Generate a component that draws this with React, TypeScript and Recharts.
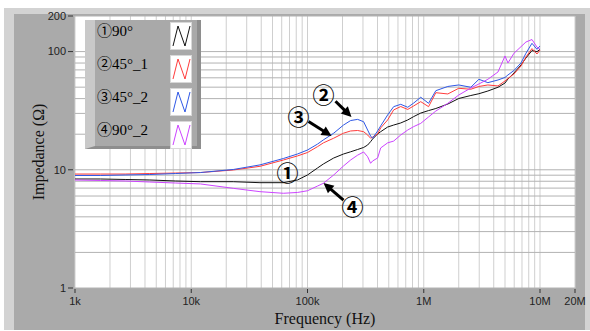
import React from 'react';
import { LineChart, Line, XAxis, YAxis, CartesianGrid, Legend, ReferenceLine, ReferenceDot } from 'recharts';

const frequencies = [1000, 1650, 2700, 4400, 7300, 12000, 23000, 39000, 62000, 82000, 100000, 122000, 137000, 168000, 204000, 235000, 270000, 304000, 329000, 349000, 363000, 401000, 426000, 489000, 551000, 634000, 728000, 820000, 942000, 1100000, 1270000, 1610000, 2000000, 2540000, 2980000, 3560000, 4350000, 5000000, 5300000, 5970000, 6860000, 7570000, 8530000, 9420000, 10000000];

const s90 = [8.36, 8.36, 8.28, 8.2, 8.04, 7.93, 7.93, 7.78, 7.78, 8.2, 9.04, 10.36, 11.2, 12.58, 13.6, 14.2, 14.85, 15.45, 16.2, 17.3, 18.2, 20.1, 21.0, 23.0, 23.9, 24.9, 26.4, 28.2, 30.2, 31.7, 33.0, 36.0, 40.1, 42.5, 44.0, 46.4, 49.9, 54.2, 58.6, 65.9, 77.0, 88.3, 102, 99.8, 104.5];
const s45_1 = [9.21, 9.21, 9.21, 9.3, 9.39, 9.48, 9.96, 10.7, 12.1, 13.1, 14.0, 15.7, 16.9, 18.5, 20.4, 21.3, 21.5, 21.0, 19.7, 18.5, 18.9, 20.1, 22.6, 26.4, 32.1, 34.3, 32.4, 34.7, 37.7, 34.2, 44.9, 43.8, 48.9, 48.0, 50.7, 52.2, 51.2, 56.4, 59.2, 64.6, 75.5, 90.0, 106, 95.4, 103];
const s45_2 = [8.95, 8.95, 9.04, 9.12, 9.3, 9.48, 10.06, 11.0, 12.46, 13.6, 14.7, 16.5, 17.9, 20.4, 23.9, 26.1, 26.7, 25.5, 21.7, 19.3, 18.5, 21.3, 23.5, 29.1, 34.2, 35.8, 33.8, 36.7, 41.1, 36.5, 46.7, 50.7, 52.2, 49.9, 58.3, 54.6, 57.5, 60.4, 63.4, 69.2, 80.1, 96.8, 117.5, 104.5, 111.5];
const s90_2 = [8.2, 8.12, 8.04, 7.88, 7.73, 7.59, 6.97, 6.53, 6.33, 6.43, 6.65, 7.29, 7.69, 9.04, 10.77, 12.1, 13.3, 14.15, 12.9, 11.35, 11.87, 12.58, 15.3, 16.9, 17.5, 19.7, 21.7, 23.2, 24.7, 28.0, 31.4, 36.5, 42.9, 49.2, 53.2, 58.3, 67.2, 91.8, 80.1, 96.8, 110, 120.5, 126.5, 109, 104.5];

const seriesNames = ['①90°', '②45°_1', '③45°_2', '④90°_2'];
const seriesColors = ['#111111', '#ff3c3c', '#2f58e6', '#cc44ff'];
const seriesKeys = ['s1', 's2', 's3', 's4'];

const yTicks = [1, 2, 3, 4, 5, 6, 7, 8, 9, 10, 20, 30, 40, 50, 60, 70, 80, 90, 100, 200];
const yTickLabels = [1, 10, 100, 200];
const xTicks = [1000, 2000, 3000, 4000, 5000, 6000, 7000, 8000, 9000, 10000, 20000, 30000, 40000, 50000, 60000, 70000, 80000, 90000, 100000, 200000, 300000, 400000, 500000, 600000, 700000, 800000, 900000, 1000000, 2000000, 3000000, 4000000, 5000000, 6000000, 7000000, 8000000, 9000000, 10000000, 20000000];
const xTickValues = [1000, 10000, 100000, 1000000, 10000000, 20000000];
const xTickTexts = ['1k', '10k', '100k', '1M', '10M', '20M'];

const annotationLabels = ['②', '③', '①', '④'];
const annotationF = [137000, 83600, 67300, 244000];
const annotationZ = [42.9, 28.0, 9.4, 4.85];

const arrowFrom = [[174000, 38.0], [102000, 25.6], [204000, 5.55]];
const arrowTo = [[239000, 28.0], [161000, 19.3], [137400, 7.73]];

const data = frequencies.map((f, i) => ({ f, s1: s90[i], s2: s45_1[i], s3: s45_2[i], s4: s90_2[i] }));

const tickFont = { fontFamily: '"Liberation Sans", Arial, sans-serif', fontSize: 11, fill: '#222' };

const YTick = (props: any) => {
  const { x, y, payload } = props;
  if (!yTickLabels.includes(payload.value)) return <g />;
  return (
    <g>
      <line x1={x + 1} x2={x + 6} y1={y} y2={y} stroke="#333" />
      <text x={x - 1} y={y} dy="0.35em" textAnchor="end" {...tickFont}>{payload.value}</text>
    </g>
  );
};

const XTick = (props: any) => {
  const { x, y, payload } = props;
  const idx = xTickValues.indexOf(payload.value);
  if (idx < 0) return <g />;
  return (
    <g>
      <line x1={x} x2={x} y1={y - 7} y2={y - 3} stroke="#333" />
      <text x={x} y={y} dy="0.85em" textAnchor="middle" {...tickFont}>{xTickTexts[idx]}</text>
    </g>
  );
};

const Arrow = (p: any) => {
  const { x1, y1, x2, y2 } = p;
  const dx = x2 - x1, dy = y2 - y1;
  const len = Math.hypot(dx, dy) || 1;
  const ux = dx / len, uy = dy / len;
  const hl = 10, hw = 5;
  const bx = x2 - ux * hl, by = y2 - uy * hl;
  return (
    <g>
      <line x1={x1} y1={y1} x2={bx + ux} y2={by + uy} stroke="#000" strokeWidth={3} />
      <polygon points={`${x2},${y2} ${bx - uy * hw},${by + ux * hw} ${bx + uy * hw},${by - ux * hw}`} fill="#000" />
    </g>
  );
};

const LegendBox = (props: any) => {
  const payload = props.payload || [];
  return (
    <div style={{ position: 'relative', width: 116, height: 129, background: '#a9a9a9', boxSizing: 'border-box', borderLeft: '10px solid #c9c9c9', borderRight: '4px solid #8e8e8e', borderBottom: '3px solid #8e8e8e' }}>
      {payload.map((p: any, i: number) => (
        <div key={i}>
          <span style={{ position: 'absolute', left: 2, top: 3 + i * 33, lineHeight: '16px', fontSize: 15, fontFamily: '"Liberation Serif", "Noto Sans CJK JP", serif', color: '#000', whiteSpace: 'nowrap' }}>{p.value}</span>
          <svg style={{ position: 'absolute', left: 75, top: 2 + i * 33 }} width={22} height={28}>
            <rect x={0.5} y={0.5} width={21} height={27} fill="#fff" stroke="#d8d8d8" />
            <polyline points="3,24 8,4 15,24 20,4" stroke={p.color} strokeWidth={1} fill="none" />
          </svg>
        </div>
      ))}
    </div>
  );
};

export default function App() {
  return (
    <div style={{ position: 'absolute', left: 0, top: 0, width: 590, height: 331, background: '#fff' }}>
      <div style={{ position: 'absolute', left: 4, top: 8, width: 586, height: 322, background: '#d3d3d3' }} />
      <div style={{ position: 'absolute', left: 14, top: 14, width: 571, height: 316, background: '#aaaaaa' }} />
      <div style={{ position: 'absolute', left: 0, top: 0 }}>
        <LineChart width={590} height={331} data={data} margin={{ top: 16, right: 15, bottom: 0, left: 0 }}>
          <CartesianGrid horizontal={false} vertical={true} stroke="#cfcfcf" fill="#ffffff" />
          <CartesianGrid horizontal={true} vertical={false} stroke="#b2b2b2" />
          <XAxis dataKey="f" type="number" scale="log" domain={[1000, 20000000]} ticks={xTicks} interval={0} allowDataOverflow
            axisLine={false} tickLine={false} tick={<XTick />} height={43}
            label={{ value: 'Frequency (Hz)', position: 'center', dy: 9, style: { fontFamily: '"Liberation Serif", serif', fontSize: 16, fill: '#111' } }} />
          <YAxis type="number" scale="log" domain={[1, 200]} ticks={yTicks} interval={0} allowDataOverflow
            axisLine={false} tickLine={false} tick={<YTick />} width={75}
            label={{ value: 'Impedance (Ω)', angle: -90, position: 'center', dx: 1, style: { fontFamily: '"Liberation Serif", serif', fontSize: 16, fill: '#111', textAnchor: 'middle' } }} />
          {seriesKeys.map((k, i) => (
            <Line key={k} dataKey={k} name={seriesNames[i]} stroke={seriesColors[i]} strokeWidth={1} dot={false} type="linear" isAnimationActive={false} />
          ))}
          {arrowFrom.map((a, i) => (
            <ReferenceLine key={'ar' + i} segment={[{ x: a[0], y: a[1] }, { x: arrowTo[i][0], y: arrowTo[i][1] }]} shape={Arrow} ifOverflow="visible" />
          ))}
          {annotationLabels.map((l, i) => (
            <ReferenceDot key={'an' + i} x={annotationF[i]} y={annotationZ[i]} r={0} ifOverflow="visible"
              shape={(p: any) => (
                <text x={p.cx} y={p.cy} dy="0.36em" textAnchor="middle" fontFamily='"Noto Sans CJK JP", sans-serif' fontWeight={700} fontSize={22} fill="#000">{l}</text>
              )} />
          ))}
          <Legend layout="vertical" align="center" verticalAlign="middle" content={<LegendBox />}
            wrapperStyle={{ left: 85, top: 20, width: 116, height: 129 }} />
        </LineChart>
      </div>
    </div>
  );
}
